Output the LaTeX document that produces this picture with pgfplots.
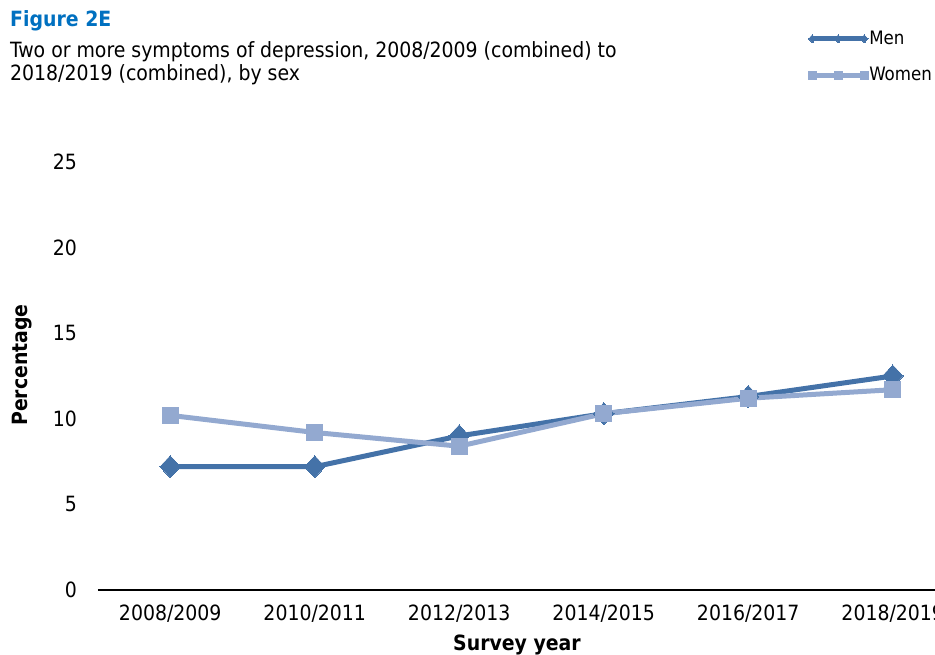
\documentclass[border=0pt]{standalone}
\usepackage{fontspec}
\setmainfont{DejaVu Sans Condensed}
\usepackage{pgfplots}
\usetikzlibrary{calc}
\pgfplotsset{compat=1.18}
\definecolor{menc}{RGB}{68,114,168}
\definecolor{womc}{RGB}{147,169,208}
\definecolor{figblue}{RGB}{0,112,192}
\begin{document}
\fontsize{21}{25}\selectfont
\begin{tikzpicture}[x=1pt,y=1pt]
\begin{axis}[
  scale only axis, width=867pt, height=428pt,
  xmin=-0.5, xmax=5.5, ymin=0, ymax=25,
  axis x line*=bottom, axis y line*=left,
  y axis line style={draw=none},
  x axis line style={black, line width=1.2pt, -},
  /pgf/number format/assume math mode=true,
  xtick={0,...,5},
  xticklabels={2008/2009,2010/2011,2012/2013,2014/2015,2016/2017,2018/2019},
  x tick style={draw=none},
  extra x ticks={-0.5,0.5,1.5,2.5,3.5,4.5,5.5},
  extra x tick labels={},
  extra x tick style={tick style={draw=black, line width=1.2pt}, major tick length=8pt, tick align=outside},
  ytick={0,5,...,25},
  y tick style={draw=none},
  major tick length=0pt,
  yticklabel style={xshift=-14pt},
  xticklabel style={yshift=-8pt},
  tick label style={font=\fontsize{21}{25}\selectfont},
  clip=false,
  legend style={at={(0.819,1.31)}, anchor=north west, draw=none, fill=none,
    inner sep=0pt, row sep=18pt, nodes={inner sep=1pt}, font=\fontsize{18.5}{22}\selectfont},
  legend cell align=left,
  legend image code/.code={\draw[#1, mark size=4pt] plot coordinates {(0pt,0pt) (26pt,0pt) (52pt,0pt)};},
]
\coordinate (O) at (rel axis cs:0,0);
\addplot[color=menc, line width=5pt, mark=diamond*, mark size=11pt, mark options={solid, line width=0pt, xscale=1.25}] coordinates {
 (0,7.2) (1,7.2) (2,9.0) (3,10.3) (4,11.3) (5,12.5)};
\addlegendentry{Men}
\addplot[color=womc, line width=5pt, mark=square*, mark size=8pt, mark options={solid, line width=0pt}] coordinates {
 (0,10.2) (1,9.2) (2,8.4) (3,10.3) (4,11.2) (5,11.7)};
\addlegendentry{Women}
\end{axis}
\begin{scope}[shift={($(O)+(-98,-65)$)}]
\node[anchor=base west, font=\fontsize{21}{25}\selectfont\bfseries, text=figblue, inner sep=0pt] at (10,628) {Figure 2E};
\node[anchor=base west, inner sep=0pt] at (10,597) {Two or more symptoms of depression, 2008/2009 (combined) to};
\node[anchor=base west, inner sep=0pt] at (10,574) {2018/2019 (combined), by sex};
\node[rotate=90, font=\fontsize{21}{25}\selectfont\bfseries, inner sep=0pt] at (22,290) {Percentage};
\node[font=\fontsize{21}{25}\selectfont\bfseries, inner sep=0pt] at (517,10) {Survey year};
\end{scope}
\pgfresetboundingbox
\useasboundingbox ($(O)+(-98,-65)$) rectangle ($(O)+(837,590)$);
\end{tikzpicture}
\end{document}
